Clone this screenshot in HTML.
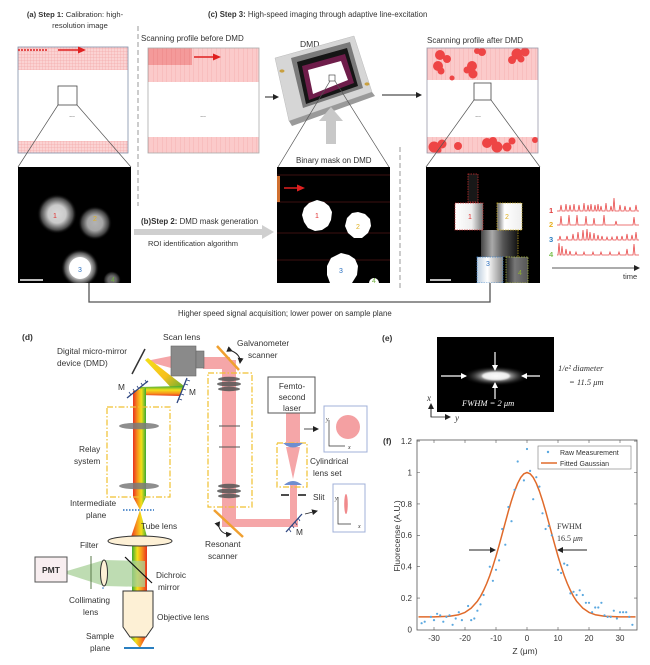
<!DOCTYPE html>
<html><head><meta charset="utf-8">
<style>
html,body{margin:0;padding:0;background:#fff;}
svg{display:block;}
text{font-family:"Liberation Sans",sans-serif;fill:#333;}
.s{font-family:"Liberation Serif",serif;font-style:italic;}
</style></head><body>
<svg width="650" height="665" viewBox="0 0 650 665" xmlns="http://www.w3.org/2000/svg">
<defs>
 <pattern id="grid" width="3" height="3" patternUnits="userSpaceOnUse">
  <rect width="3" height="3" fill="#fbd3d3"/>
  <path d="M0 0H3M0 0V3" stroke="#f09a9a" stroke-width="0.5"/>
 </pattern>
 <pattern id="vs" width="4.5" height="10" patternUnits="userSpaceOnUse">
  <rect width="4.5" height="10" fill="#fbcaca"/>
  <path d="M0 0V10" stroke="#ef9a9a" stroke-width="0.5"/>
 </pattern>
 <pattern id="vs2" width="4.5" height="10" patternUnits="userSpaceOnUse">
  <rect width="4.5" height="10" fill="#f49a9a"/>
  <path d="M0 0V10" stroke="#e67070" stroke-width="0.5"/>
 </pattern>
 <filter id="b3" x="-1" y="-1" width="3" height="3"><feGaussianBlur stdDeviation="4"/></filter>
 <filter id="b1"><feGaussianBlur stdDeviation="0.8"/></filter>
 <radialGradient id="glow"><stop offset="0" stop-color="#fff"/><stop offset="0.45" stop-color="#eee"/><stop offset="0.8" stop-color="#555"/><stop offset="1" stop-color="#000" stop-opacity="0"/></radialGradient>
 <radialGradient id="eglow"><stop offset="0" stop-color="#fff"/><stop offset="0.4" stop-color="#bbb"/><stop offset="1" stop-color="#000" stop-opacity="0"/></radialGradient>
 <linearGradient id="rbv" x1="0" y1="0" x2="1" y2="0"><stop offset="0" stop-color="#e8321e"/><stop offset="0.35" stop-color="#f7941d"/><stop offset="0.65" stop-color="#f2e01a"/><stop offset="1" stop-color="#3aa935"/></linearGradient>
 <linearGradient id="rbv2" x1="0" y1="0" x2="1" y2="0"><stop offset="0" stop-color="#3aa935"/><stop offset="0.35" stop-color="#f2e01a"/><stop offset="0.65" stop-color="#f7941d"/><stop offset="1" stop-color="#e8321e"/></linearGradient>
 <linearGradient id="rbh" x1="0" y1="0" x2="0" y2="1"><stop offset="0" stop-color="#3aa935"/><stop offset="0.4" stop-color="#f2e01a"/><stop offset="0.75" stop-color="#f7941d"/><stop offset="1" stop-color="#e8321e"/></linearGradient>
 <linearGradient id="rbd" x1="0" y1="0" x2="1" y2="1"><stop offset="0" stop-color="#f2e01a"/><stop offset="0.5" stop-color="#f7c01d"/><stop offset="1" stop-color="#3aa935"/></linearGradient>
 <linearGradient id="gl1" x1="0" y1="0" x2="1" y2="0"><stop offset="0" stop-color="#fff"/><stop offset="0.6" stop-color="#eee"/><stop offset="1" stop-color="#777"/></linearGradient>
 <linearGradient id="gl2" x1="0" y1="0" x2="1" y2="0"><stop offset="0" stop-color="#666"/><stop offset="0.3" stop-color="#fff"/><stop offset="1" stop-color="#eee"/></linearGradient>
 <linearGradient id="gl3" x1="0" y1="0" x2="1" y2="0"><stop offset="0" stop-color="#444"/><stop offset="0.3" stop-color="#aaa"/><stop offset="0.6" stop-color="#555"/><stop offset="1" stop-color="#111"/></linearGradient>
 <linearGradient id="gl4" x1="0" y1="0" x2="1" y2="0"><stop offset="0" stop-color="#bcd"/><stop offset="0.4" stop-color="#fff"/><stop offset="1" stop-color="#888"/></linearGradient>
 <linearGradient id="gl5" x1="0" y1="0" x2="1" y2="0"><stop offset="0" stop-color="#222"/><stop offset="0.4" stop-color="#777"/><stop offset="1" stop-color="#555"/></linearGradient>
 <linearGradient id="lensg" x1="0" y1="0" x2="1" y2="0"><stop offset="0" stop-color="#666"/><stop offset="0.5" stop-color="#aaa"/><stop offset="1" stop-color="#666"/></linearGradient>
 <clipPath id="cA"><rect x="18" y="167" width="113" height="116"/></clipPath>
 <clipPath id="cB"><rect x="277" y="167" width="113" height="116"/></clipPath>
 <clipPath id="cC"><rect x="426" y="167" width="114" height="116"/></clipPath>
 <clipPath id="cE"><rect x="437" y="337" width="117" height="75"/></clipPath>
 <marker id="ah" markerWidth="6" markerHeight="6" refX="5" refY="3" orient="auto" markerUnits="userSpaceOnUse"><path d="M0 0L6 3L0 6Z" fill="#222"/></marker>
 <marker id="ahr" markerWidth="8" markerHeight="7" refX="6" refY="3.5" orient="auto" markerUnits="userSpaceOnUse"><path d="M0 0L8 3.5L0 7Z" fill="#e02020"/></marker>
 <marker id="ahw" markerWidth="6" markerHeight="6" refX="5" refY="3" orient="auto" markerUnits="userSpaceOnUse"><path d="M0 0L6 3L0 6Z" fill="#fff"/></marker>
</defs>

<!-- ===== TOP TITLES ===== -->
<text x="75" y="17" font-size="7.6" text-anchor="middle"><tspan font-weight="bold">(a) Step 1:</tspan> Calibration: high-</text>
<text x="80" y="28" font-size="7.6" text-anchor="middle">resolution image</text>
<text x="208" y="17" font-size="7.8"><tspan font-weight="bold">(c) Step 3:</tspan> High-speed imaging through adaptive line-excitation</text>

<!-- dashed separators -->
<line x1="138" y1="26" x2="138" y2="206" stroke="#999" stroke-width="1" stroke-dasharray="5,3"/>
<line x1="400" y1="147" x2="400" y2="288" stroke="#999" stroke-width="1" stroke-dasharray="5,3"/>

<!-- (a) box -->
<rect x="18" y="47" width="110" height="23" fill="url(#grid)"/>
<rect x="18" y="141" width="110" height="12" fill="url(#grid)"/>
<rect x="18" y="47" width="110" height="106" fill="none" stroke="#8090a8" stroke-width="0.8"/>
<line x1="18" y1="50" x2="48" y2="50" stroke="#d22" stroke-width="1.6" stroke-dasharray="2,1"/>
<line x1="58" y1="50" x2="84" y2="50" stroke="#e02020" stroke-width="1.6" marker-end="url(#ahr)"/>
<rect x="58" y="86" width="19" height="19" fill="none" stroke="#444" stroke-width="0.8"/>
<text x="72" y="117" font-size="7" text-anchor="middle">...</text>
<line x1="58" y1="105" x2="18" y2="167" stroke="#555" stroke-width="0.7"/>
<line x1="77" y1="105" x2="131" y2="167" stroke="#555" stroke-width="0.7"/>

<!-- before DMD -->
<text x="141" y="41" font-size="8">Scanning profile before DMD</text>
<rect x="148" y="48" width="111" height="34" fill="url(#vs)"/>
<rect x="148" y="48" width="44" height="17" fill="url(#vs2)"/>
<rect x="148" y="137" width="111" height="16" fill="url(#vs)"/>
<rect x="148" y="48" width="111" height="105" fill="none" stroke="#aaa" stroke-width="0.8"/>
<line x1="194" y1="57" x2="219" y2="57" stroke="#e02020" stroke-width="1.6" marker-end="url(#ahr)"/>
<text x="203" y="117" font-size="7" text-anchor="middle">...</text>
<line x1="265" y1="97" x2="278" y2="97" stroke="#222" stroke-width="1" marker-end="url(#ah)"/>

<!-- DMD device -->
<text x="300" y="47" font-size="8.5">DMD</text>
<polygon points="275,58 354,36 372,92 289,121" fill="#d6d6d6" stroke="#bbb" stroke-width="0.5"/>
<polygon points="275,58 289,121 292,126 375,96 372,92 289,121" fill="#9a9a9a"/>
<polygon points="291,58 350,42 363,88 303,108" fill="#7a7a7a"/>
<polygon points="297,62 347,48 358,86 306,104" fill="#151515"/>
<polygon points="302,66 345,54 354,83 309,100" fill="#6e1d4a"/>
<polygon points="308,70 341,61 348,80 313,94" fill="#fff"/>
<rect x="329" y="75" width="6" height="6" fill="#fff" stroke="#333" stroke-width="0.6"/>
<ellipse cx="282" cy="71" rx="2.5" ry="1.6" fill="#c9a040"/>
<ellipse cx="367" cy="84" rx="2.5" ry="1.6" fill="#c9a040"/>
<line x1="330" y1="81" x2="278" y2="167" stroke="#555" stroke-width="0.7"/>
<line x1="335" y1="81" x2="389" y2="167" stroke="#555" stroke-width="0.7"/>
<!-- gray up arrow -->
<rect x="326" y="120" width="10" height="24" fill="#c8c8c8"/>
<polygon points="319,121 343,121 331,107" fill="#c8c8c8"/>
<line x1="382" y1="95" x2="421" y2="95" stroke="#222" stroke-width="1" marker-end="url(#ah)"/>

<!-- after DMD -->
<text x="427" y="43" font-size="8">Scanning profile after DMD</text>
<rect x="427" y="48" width="111" height="32" fill="url(#vs)"/>
<rect x="427" y="137" width="111" height="16" fill="url(#vs)"/>
<g fill="#ee4545">
 <circle cx="440" cy="55" r="5"/><circle cx="438" cy="66" r="5"/><circle cx="447" cy="59" r="4"/><circle cx="441" cy="71" r="3.5"/>
 <circle cx="482" cy="52" r="4"/><circle cx="477" cy="51" r="3"/>
 <circle cx="472" cy="66" r="5"/><circle cx="473" cy="74" r="4.5"/><circle cx="467" cy="70" r="3.5"/>
 <circle cx="517" cy="54" r="5.5"/><circle cx="525" cy="52" r="4.5"/><circle cx="512" cy="60" r="4"/><circle cx="521" cy="59" r="3.5"/>
 <circle cx="452" cy="78" r="2.5"/>
 <circle cx="434" cy="147" r="5.5"/><circle cx="442" cy="144" r="4.5"/><circle cx="438" cy="150" r="3.5"/>
 <circle cx="458" cy="146" r="4"/>
 <circle cx="487" cy="143" r="5"/><circle cx="497" cy="147" r="5.5"/><circle cx="493" cy="141" r="4"/>
 <circle cx="507" cy="147" r="4.5"/><circle cx="512" cy="141" r="3.5"/>
 <circle cx="535" cy="140" r="3"/>
</g>
<rect x="427" y="48" width="111" height="105" fill="none" stroke="#99a" stroke-width="0.8"/>
<rect x="474" y="83" width="17" height="17" fill="none" stroke="#444" stroke-width="0.8"/>
<text x="478" y="117" font-size="7" text-anchor="middle">...</text>
<line x1="474" y1="100" x2="426" y2="167" stroke="#555" stroke-width="0.7"/>
<line x1="491" y1="100" x2="540" y2="167" stroke="#555" stroke-width="0.7"/>

<!-- (a) fluorescence image -->
<rect x="18" y="167" width="113" height="116" fill="#000"/>
<g clip-path="url(#cA)">
 <circle cx="57" cy="214" r="20" fill="url(#glow)" opacity="0.85"/>
 <circle cx="95" cy="223" r="17" fill="url(#glow)" opacity="0.7"/>
 <circle cx="80" cy="268" r="19" fill="url(#glow)" opacity="1"/>
 <circle cx="80" cy="268" r="11" fill="#fff"/>
 <circle cx="112" cy="280" r="9" fill="url(#glow)" opacity="0.45"/>
</g>
<line x1="20" y1="280" x2="43" y2="280" stroke="#fff" stroke-width="1.5"/>
<text x="55" y="218" font-size="7" fill="#e03030" text-anchor="middle" style="fill:#e03030">1</text>
<text x="95" y="221" font-size="7" text-anchor="middle" style="fill:#e0b020">2</text>
<text x="80" y="272" font-size="7" text-anchor="middle" style="fill:#2a70c0">3</text>
<text x="113" y="282" font-size="7" text-anchor="middle" style="fill:#70b040">4</text>

<!-- (b) -->
<polygon points="134,229 262,229 262,225 274,232 262,239 262,235 134,235" fill="#cfcfcf"/>
<text x="141" y="224" font-size="7.9"><tspan font-weight="bold">(b)Step 2:</tspan> DMD mask generation</text>
<text x="148" y="246" font-size="7.5">ROI identification algorithm</text>

<!-- binary mask -->
<text x="296" y="163" font-size="8">Binary mask on DMD</text>
<rect x="277" y="167" width="113" height="116" fill="#000"/>
<g clip-path="url(#cB)">
 <g stroke="#7a2020" stroke-width="0.6"><line x1="277" y1="175" x2="390" y2="175"/><line x1="277" y1="202" x2="390" y2="202"/><line x1="277" y1="233" x2="390" y2="233"/><line x1="277" y1="260" x2="390" y2="260"/></g>
 <rect x="277" y="176" width="3" height="26" fill="#d07030"/>
 <g fill="#fff">
  <polygon points="317,200 324,202 329,206 332,212 331,220 328,226 322,230 315,231 308,228 304,222 302,215 304,208 309,203"/>
  <polygon points="358,212 365,214 370,219 371,226 368,233 362,238 354,238 348,233 345,226 347,218 352,213"/>
  <polygon points="341,253 349,255 355,259 358,266 357,275 352,283 330,283 327,275 327,266 331,258"/>
  <circle cx="374" cy="283" r="5"/>
 </g>
</g>
<line x1="284" y1="188" x2="303" y2="188" stroke="#e02020" stroke-width="1.6" marker-end="url(#ahr)"/>
<text x="317" y="218" font-size="7" text-anchor="middle" style="fill:#e03030">1</text>
<text x="358" y="229" font-size="7" text-anchor="middle" style="fill:#e0b020">2</text>
<text x="341" y="273" font-size="7" text-anchor="middle" style="fill:#2a70c0">3</text>
<text x="374" y="283" font-size="7" text-anchor="middle" style="fill:#70b040">4</text>

<!-- after image -->
<rect x="426" y="167" width="114" height="116" fill="#000"/>
<g clip-path="url(#cC)">
 <rect x="468" y="174" width="10" height="28" fill="#181818" stroke="#d03030" stroke-width="0.7" stroke-dasharray="1.5,1"/>
 <rect x="481" y="230" width="37" height="27" fill="url(#gl3)"/>
 <rect x="455" y="203" width="28" height="27" fill="url(#gl1)" stroke="#d03030" stroke-width="0.7" stroke-dasharray="1.5,1"/>
 <rect x="497" y="203" width="25" height="27" fill="url(#gl2)" stroke="#d0b020" stroke-width="0.7" stroke-dasharray="1.5,1"/>
 <line x1="518" y1="230" x2="518" y2="257" stroke="#d0b020" stroke-width="0.7" stroke-dasharray="1.5,1"/>
 <rect x="477" y="257" width="26" height="26" fill="url(#gl4)" stroke="#3a80c8" stroke-width="0.7" stroke-dasharray="1.5,1"/>
 <rect x="506" y="257" width="22" height="26" fill="url(#gl5)" stroke="#b0c040" stroke-width="0.7" stroke-dasharray="1.5,1"/>
</g>
<line x1="430" y1="280" x2="451" y2="280" stroke="#fff" stroke-width="1.5"/>
<text x="470" y="219" font-size="7" text-anchor="middle" style="fill:#e03030">1</text>
<text x="507" y="219" font-size="7" text-anchor="middle" style="fill:#e0b020">2</text>
<text x="488" y="266" font-size="7" text-anchor="middle" style="fill:#2a70c0">3</text>
<text x="520" y="275" font-size="7" text-anchor="middle" style="fill:#90b030">4</text>

<!-- traces -->
<text x="549" y="213" font-size="7.5" font-weight="bold" style="fill:#e03c3c">1</text>
<text x="549" y="227" font-size="7.5" font-weight="bold" style="fill:#e8b020">2</text>
<text x="549" y="242" font-size="7.5" font-weight="bold" style="fill:#2a7ec0">3</text>
<text x="549" y="257" font-size="7.5" font-weight="bold" style="fill:#7cc050">4</text>
<g fill="none" stroke="#e84a4a" stroke-width="0.8">
<path d="M557 211L560 211L561 205L562 211L565 211L566 204L567 211L569 211L570 205L571 211L573 211L574 204L575 211L578 211L579 205L580 211L583 211L584 203L585 211L587 211L588 205L589 211L590 211L591 204L592 211L594 211L595 205L596 211L597 211L598 204L599 211L600 211L601 206L602 211L605 211L606 203L607 211L610 211L611 206L612 211L613 211L614 198L615 211L619 211L620 205L621 211L624 211L625 206L626 211L629 211L630 207L631 211L635 211L636 205L637 211L639 211"/>
<path d="M557 225L560 225L561 216L562 225L568 225L569 215L570 225L576 225L577 215L578 225L585 225L586 216L587 225L593 225L594 218L595 225L603 225L604 215L605 225L615 225L616 221L617 225L633 225L634 217L635 225L639 225"/>
<path d="M557 240L559 240L560 236L561 240L566 240L567 236L568 240L572 240L573 234L574 240L577 240L578 232L579 240L582 240L583 230L584 240L586 240L587 229L588 240L589 240L590 232L591 240L593 240L594 233L595 240L597 240L598 235L599 240L601 240L602 236L603 240L606 240L607 237L608 240L611 240L612 237L613 240L616 240L617 236L618 240L621 240L622 236L623 240L626 240L627 234L628 240L631 240L632 235L633 240L635 240L636 232L637 240L639 240"/>
<path d="M557 255L558 255L559 243L560 255L561 255L562 246L563 255L565 255L566 249L567 255L569 255L570 251L571 255L575 255L576 252L577 255L583 255L584 252L585 255L592 255L593 252L594 255L600 255L601 252L602 255L609 255L610 252L611 255L618 255L619 252L620 255L626 255L627 249L628 255L633 255L634 244L635 255L639 255"/>
</g>
<line x1="552" y1="268" x2="639" y2="268" stroke="#222" stroke-width="0.8" marker-end="url(#ah)"/>
<text x="623" y="279" font-size="7.5">time</text>

<!-- feedback -->
<polyline points="89,283 89,302 490,302 490,283" fill="none" stroke="#555" stroke-width="1.3"/>
<text x="178" y="316" font-size="7.8">Higher speed signal acquisition; lower power on sample plane</text>

<!-- ===== (d) ===== -->
<text x="22" y="340" font-size="8.5" font-weight="bold">(d)</text>
<!-- pink beams -->
<g fill="#f5a6a8">
 <polygon points="146,361 171,356 171,368"/>
 <rect x="203" y="357" width="27" height="12"/>
 <rect x="222" y="360" width="14" height="167"/>
 <rect x="222" y="519" width="76" height="8"/>
 <rect x="290" y="485" width="7" height="38"/>
 <rect x="286" y="413" width="14" height="33"/>
 <polygon points="286,447 300,447 293,479"/>
</g>
<!-- scan lens -->
<rect x="171" y="346" width="25" height="30" fill="#8a8a8a" stroke="#666" stroke-width="0.6"/>
<rect x="196" y="351" width="8" height="17" fill="#8a8a8a" stroke="#666" stroke-width="0.6"/>
<text x="163" y="340" font-size="8.5">Scan lens</text>
<!-- DMD mirror -->
<line x1="132" y1="374" x2="145" y2="349" stroke="#333" stroke-width="1.5"/>
<text x="57" y="354" font-size="8.3">Digital micro-mirror</text>
<text x="57" y="366" font-size="8.3">device (DMD)</text>
<!-- rainbow path -->
<polygon points="145,360 148,358 184,386 179,396" fill="url(#rbd)"/>
<polygon points="140,387 183,386 180,396 140,395" fill="url(#rbh)"/>
<polygon points="133,391 146,388 146,497 140,510 133,497" fill="url(#rbv)"/>
<polygon points="140,510 147,537 131,537" fill="url(#rbv)"/>
<rect x="132" y="545" width="15" height="47" fill="url(#rbv2)"/>
<polygon points="130,637 146,637 140,648" fill="url(#rbv2)"/>
<!-- mirrors M -->
<g stroke="#2d4580" stroke-width="1.3" fill="none">
 <line x1="127" y1="398" x2="148" y2="381"/>
 <path d="M131 395l-2-3M135 392l-2-3M139 389l-2-3M143 386l-2-3M147 383l-2-3" stroke-width="0.8"/>
 <line x1="177" y1="403" x2="187" y2="378"/>
 <path d="M179 399l3 1M181 394l3 1M183 389l3 1M185 384l3 1M187 380l3 1" stroke-width="0.8"/>
 <line x1="286" y1="532" x2="302" y2="514"/>
 <path d="M289 529l2 3M292 525l2 3M295 522l2 3M298 518l2 3" stroke-width="0.8"/>
</g>
<text x="118" y="390" font-size="8.3">M</text>
<text x="189" y="395" font-size="8.3">M</text>
<text x="296" y="535" font-size="8.3">M</text>
<!-- relay -->
<rect x="107" y="407" width="63" height="90" fill="none" stroke="#f0c030" stroke-width="1.2" stroke-dasharray="6,2,1.5,2"/>
<ellipse cx="139" cy="426" rx="20" ry="3.3" fill="#7a7a7a" opacity="0.85"/>
<ellipse cx="139" cy="486" rx="20" ry="3.3" fill="#7a7a7a" opacity="0.85"/>
<text x="79" y="452" font-size="8.3">Relay</text>
<text x="74" y="464" font-size="8.3">system</text>
<line x1="123" y1="510" x2="154" y2="510" stroke="#2a70c0" stroke-width="1.5" stroke-dasharray="1.5,1.5"/>
<text x="70" y="506" font-size="8.3">Intermediate</text>
<text x="86" y="518" font-size="8.3">plane</text>
<ellipse cx="140" cy="541" rx="32" ry="5" fill="#fdf0d5" stroke="#333" stroke-width="1"/>
<text x="141" y="529" font-size="8.3">Tube lens</text>
<!-- detection -->
<polygon points="67,571 104,560 145,561 145,587 104,586 67,574" fill="#a8d098" opacity="0.75"/>
<rect x="35" y="557" width="32" height="25" fill="#f8eef0" stroke="#555" stroke-width="1"/>
<text x="51" y="573" font-size="8.5" text-anchor="middle" font-weight="bold">PMT</text>
<line x1="91" y1="556" x2="91" y2="589" stroke="#5a7a4a" stroke-width="1"/>
<text x="80" y="548" font-size="8.3">Filter</text>
<ellipse cx="104" cy="573" rx="3.5" ry="13" fill="#fdf0d5" stroke="#333" stroke-width="1"/>
<circle cx="103" cy="588" r="0.8" fill="#2a70c0"/>
<line x1="125" y1="557" x2="152" y2="583" stroke="#111" stroke-width="1.2"/>
<text x="156" y="578" font-size="8.3">Dichroic</text>
<text x="158" y="590" font-size="8.3">mirror</text>
<text x="69" y="603" font-size="8.3">Collimating</text>
<text x="83" y="615" font-size="8.3">lens</text>
<path d="M123 591H153V627L146 637H130L123 627Z" fill="#fdf0d5" stroke="#333" stroke-width="1"/>
<text x="157" y="620" font-size="8.3">Objective lens</text>
<line x1="124" y1="648" x2="154" y2="648" stroke="#2a7fc0" stroke-width="2"/>
<text x="86" y="639" font-size="8.3">Sample</text>
<text x="90" y="651" font-size="8.3">plane</text>

<!-- galvo / scan system -->
<line x1="217" y1="346" x2="239" y2="370" stroke="#f0a030" stroke-width="2.5"/>
<path d="M232 351Q241 355 240 363" fill="none" stroke="#222" stroke-width="1" marker-end="url(#ah)" marker-start="url(#ah)"/>
<text x="237" y="346" font-size="8.3">Galvanometer</text>
<text x="248" y="358" font-size="8.3">scanner</text>
<rect x="208" y="373" width="44" height="134" fill="none" stroke="#f0c030" stroke-width="1.2" stroke-dasharray="6,2,1.5,2"/>
<g fill="#555" opacity="0.85">
 <ellipse cx="229" cy="379" rx="11" ry="2.2"/>
 <ellipse cx="229" cy="384" rx="12" ry="2.5"/>
 <ellipse cx="229" cy="389" rx="11" ry="2.2"/>
 <ellipse cx="229" cy="486" rx="11" ry="2.2"/>
 <ellipse cx="229" cy="491" rx="12" ry="2.5"/>
 <ellipse cx="229" cy="496" rx="11" ry="2.2"/>
</g>
<line x1="219" y1="426" x2="240" y2="426" stroke="#555" stroke-width="1"/>
<line x1="219" y1="447" x2="240" y2="447" stroke="#555" stroke-width="1"/>
<line x1="214" y1="510" x2="243" y2="537" stroke="#f0a030" stroke-width="2.5"/>
<path d="M219 527Q222 535 231 534" fill="none" stroke="#222" stroke-width="1" marker-end="url(#ah)" marker-start="url(#ah)"/>
<text x="205" y="547" font-size="8.3">Resonant</text>
<text x="208" y="559" font-size="8.3">scanner</text>

<!-- laser -->
<rect x="268" y="377" width="47" height="36" fill="#fff" stroke="#555" stroke-width="1"/>
<text x="292" y="389" font-size="8.3" text-anchor="middle">Femto-</text>
<text x="292" y="400" font-size="8.3" text-anchor="middle">second</text>
<text x="292" y="411" font-size="8.3" text-anchor="middle">laser</text>
<rect x="277" y="443" width="30" height="44" fill="none" stroke="#f0c030" stroke-width="1.2" stroke-dasharray="6,2,1.5,2"/>
<path d="M283 443H303Q293 452 283 443Z" fill="#6f8ed0"/>
<path d="M284 485Q293 477 302 485Z" fill="#6f8ed0"/>
<line x1="281" y1="495" x2="289" y2="495" stroke="#111" stroke-width="1.5"/>
<line x1="298" y1="495" x2="306" y2="495" stroke="#111" stroke-width="1.5"/>
<text x="310" y="464" font-size="8.3">Cylindrical</text>
<text x="313" y="476" font-size="8.3">lens set</text>
<text x="313" y="500" font-size="8.3">Slit</text>
<!-- insets -->
<line x1="304" y1="429" x2="318" y2="429" stroke="#222" stroke-width="0.8" marker-end="url(#ah)"/>
<rect x="324" y="406" width="43" height="46" fill="#fff" stroke="#a0b0d8" stroke-width="1"/>
<circle cx="348" cy="427" r="12" fill="#f4a0a2"/>
<polyline points="329,420 329,446 345,446" fill="none" stroke="#333" stroke-width="0.7"/>
<text x="326" y="421" font-size="6" class="s">y</text>
<text x="348" y="449" font-size="6" class="s">x</text>
<line x1="305" y1="514" x2="317" y2="511" stroke="#222" stroke-width="0.8" marker-end="url(#ah)"/>
<rect x="333" y="484" width="32" height="48" fill="#fff" stroke="#a0b0d8" stroke-width="1"/>
<ellipse cx="346" cy="504" rx="1.8" ry="10" fill="#f08a8c"/>
<polyline points="338,497 338,524 351,524" fill="none" stroke="#333" stroke-width="0.7"/>
<text x="335" y="500" font-size="6" class="s">y</text>
<text x="358" y="528" font-size="6" class="s">x</text>

<!-- ===== (e) ===== -->
<text x="382" y="341" font-size="8.5" font-weight="bold">(e)</text>
<rect x="437" y="337" width="117" height="75" fill="#000"/>
<g clip-path="url(#cE)">
 <ellipse cx="496" cy="376" rx="34" ry="10" fill="url(#eglow)" opacity="0.9"/>
 <ellipse cx="496" cy="376" rx="14" ry="4" fill="#fff" opacity="0.8" filter="url(#b1)"/>
</g>
<g stroke="#fff" stroke-width="1.2">
 <line x1="441" y1="376" x2="466" y2="376" marker-end="url(#ahw)"/>
 <line x1="540" y1="376" x2="522" y2="376" marker-end="url(#ahw)"/>
 <line x1="495" y1="352" x2="495" y2="370" marker-end="url(#ahw)"/>
 <line x1="495" y1="399" x2="495" y2="383" marker-end="url(#ahw)"/>
</g>
<text x="462" y="406" font-size="8.5" class="s" style="fill:#fff">FWHM = 2 μm</text>
<text x="558" y="371" font-size="8.5" class="s">1/e² diameter</text>
<text x="569" y="385" font-size="8.5" class="s">= 11.5 μm</text>
<text x="427" y="401" font-size="9" class="s">x</text>
<polyline points="431,405 431,417 450,417" fill="none" stroke="#222" stroke-width="0.8" marker-end="url(#ah)"/>
<line x1="431" y1="417" x2="431" y2="404" stroke="#222" stroke-width="0.8" marker-end="url(#ah)"/>
<text x="455" y="421" font-size="9" class="s">y</text>

<!-- ===== (f) ===== -->
<text x="383" y="444" font-size="8.5" font-weight="bold">(f)</text>
<rect x="417" y="440" width="220" height="190" fill="#fff" stroke="#555" stroke-width="0.8"/>
<g stroke="#555" stroke-width="0.6">
 <path d="M417 441.1h3M417 472.5h3M417 503.9h3M417 535.3h3M417 566.7h3M417 598.1h3"/>
 <path d="M637 441.1h-3M637 472.5h-3M637 503.9h-3M637 535.3h-3M637 566.7h-3M637 598.1h-3"/>
 <path d="M434 630v-3M465 630v-3M496 630v-3M527 630v-3M558 630v-3M589 630v-3M620 630v-3"/>
 <path d="M434 440v3M465 440v3M496 440v3M527 440v3M558 440v3M589 440v3M620 440v3"/>
</g>
<g font-size="8" text-anchor="end">
 <text x="412" y="444">1.2</text><text x="412" y="475.5">1</text><text x="412" y="507">0.8</text><text x="412" y="538">0.6</text><text x="412" y="569.5">0.4</text><text x="412" y="601">0.2</text><text x="412" y="632.5">0</text>
</g>
<g font-size="8" text-anchor="middle">
 <text x="434" y="641">-30</text><text x="465" y="641">-20</text><text x="496" y="641">-10</text><text x="527" y="641">0</text><text x="558" y="641">10</text><text x="589" y="641">20</text><text x="620" y="641">30</text>
</g>
<text x="525" y="654" font-size="8.5" text-anchor="middle">Z (μm)</text>
<text transform="translate(400,536) rotate(-90)" font-size="8.5" text-anchor="middle">Fluorecense (A.U.)</text>
<path d="M418.5 616.9L434 616.9L449.5 616.3L458.8 614.7L465 612.4L471.2 608.1L477.4 601.2L480.5 596.4L483.6 590.4L486.7 583.5L489.8 575.5L492.9 566.2L496 556.2L499.1 545.3L502.2 533.9L505.3 522.4L508.4 511.1L511.5 500.6L514.6 491.2L517.7 483.3L520.8 477.4L523.9 473.8L527 472.5L530.1 473.8L533.2 477.4L536.3 483.3L539.4 491.2L542.5 500.6L545.6 511.1L548.7 522.4L551.8 533.9L554.9 545.3L558 556.2L561.1 566.2L564.2 575.5L567.3 583.5L570.4 590.4L573.5 596.4L576.6 601.2L582.8 608.1L589 612.4L595.2 614.7L604.5 616.3L620 616.9L635.5 616.9" fill="none" stroke="#e06a2a" stroke-width="1.5" stroke-linejoin="round"/>
<g fill="#5aa8e0">
<circle cx="421.6" cy="623.2" r="1.1"/><circle cx="424.7" cy="621.7" r="1.1"/><circle cx="430.9" cy="616.9" r="1.1"/><circle cx="434" cy="620.1" r="1.1"/><circle cx="437.1" cy="613.8" r="1.1"/><circle cx="440.2" cy="615.4" r="1.1"/><circle cx="443.3" cy="621.7" r="1.1"/><circle cx="446.4" cy="616.9" r="1.1"/><circle cx="449.5" cy="615.4" r="1.1"/><circle cx="452.6" cy="624.8" r="1.1"/><circle cx="455.7" cy="618.5" r="1.1"/><circle cx="458.8" cy="612.2" r="1.1"/><circle cx="461.9" cy="620.1" r="1.1"/><circle cx="468.1" cy="606" r="1.1"/><circle cx="471.2" cy="620.1" r="1.1"/><circle cx="474.3" cy="618.5" r="1.1"/><circle cx="477.4" cy="610.7" r="1.1"/><circle cx="480.5" cy="604.4" r="1.1"/><circle cx="483.6" cy="595" r="1.1"/><circle cx="489.8" cy="566.7" r="1.1"/><circle cx="492.9" cy="580.8" r="1.1"/><circle cx="496" cy="569.8" r="1.1"/><circle cx="499.1" cy="560.4" r="1.1"/><circle cx="502.2" cy="529" r="1.1"/><circle cx="505.3" cy="544.7" r="1.1"/><circle cx="508.4" cy="507" r="1.1"/><circle cx="511.5" cy="521.2" r="1.1"/><circle cx="514.6" cy="489.8" r="1.1"/><circle cx="517.7" cy="461.5" r="1.1"/><circle cx="523.9" cy="480.4" r="1.1"/><circle cx="527" cy="449" r="1.1"/><circle cx="530.1" cy="470.9" r="1.1"/><circle cx="533.2" cy="499.2" r="1.1"/><circle cx="536.3" cy="477.2" r="1.1"/><circle cx="539.4" cy="486.6" r="1.1"/><circle cx="542.5" cy="513.3" r="1.1"/><circle cx="545.6" cy="529" r="1.1"/><circle cx="548.7" cy="525.9" r="1.1"/><circle cx="551.8" cy="535.3" r="1.1"/><circle cx="558" cy="569.8" r="1.1"/><circle cx="561.1" cy="573" r="1.1"/><circle cx="564.2" cy="563.6" r="1.1"/><circle cx="567.3" cy="565.1" r="1.1"/><circle cx="570.4" cy="593.4" r="1.1"/><circle cx="573.5" cy="591.8" r="1.1"/><circle cx="576.6" cy="595" r="1.1"/><circle cx="579.7" cy="590.3" r="1.1"/><circle cx="582.8" cy="595" r="1.1"/><circle cx="585.9" cy="602.8" r="1.1"/><circle cx="589" cy="602.8" r="1.1"/><circle cx="592.1" cy="612.2" r="1.1"/><circle cx="595.2" cy="607.5" r="1.1"/><circle cx="598.3" cy="607.5" r="1.1"/><circle cx="601.4" cy="602.8" r="1.1"/><circle cx="604.5" cy="615.4" r="1.1"/><circle cx="607.6" cy="616.9" r="1.1"/><circle cx="610.7" cy="616.9" r="1.1"/><circle cx="613.8" cy="610.7" r="1.1"/><circle cx="616.9" cy="618.5" r="1.1"/><circle cx="620" cy="612.2" r="1.1"/><circle cx="623.1" cy="612.2" r="1.1"/><circle cx="626.2" cy="612.2" r="1.1"/><circle cx="629.3" cy="616.9" r="1.1"/><circle cx="632.4" cy="624.8" r="1.1"/>
</g>
<rect x="538" y="446" width="93" height="23" fill="#fff" stroke="#777" stroke-width="0.6"/>
<circle cx="548" cy="452" r="1.2" fill="#5aa8e0"/>
<text x="560" y="455" font-size="7">Raw Measurement</text>
<line x1="541" y1="463" x2="557" y2="463" stroke="#e06a2a" stroke-width="1.5"/>
<text x="560" y="466" font-size="7">Fitted Gaussian</text>
<text x="557" y="529" font-size="8" style="font-family:'Liberation Serif',serif">FWHM</text>
<text x="557" y="541" font-size="8" style="font-family:'Liberation Serif',serif">16.5 <tspan font-style="italic">μm</tspan></text>
<line x1="469" y1="550" x2="495" y2="550" stroke="#222" stroke-width="1" marker-end="url(#ah)"/>
<line x1="587" y1="550" x2="558" y2="550" stroke="#222" stroke-width="1" marker-end="url(#ah)"/>
</svg>
</body></html>
